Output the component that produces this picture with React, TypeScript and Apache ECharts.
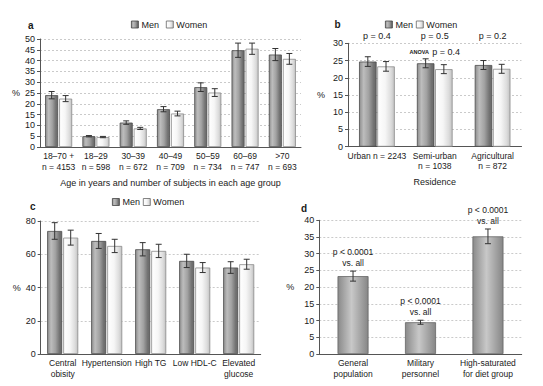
import React, { useEffect, useRef } from 'react';
import * as echarts from 'echarts';

// ---------- data ----------
const ageGroups = ['18–70 +', '18–29', '30–39', '40–49', '50–59', '60–69', '>70'];
const ageN = ['n = 4153', 'n = 598', 'n = 672', 'n = 709', 'n = 734', 'n = 747', 'n = 693'];
const ageMen = [24, 5, 11.3, 17.5, 27.7, 44.8, 42.8];
const ageMenErr = [1.7, 0.3, 0.8, 1.2, 2.0, 3.3, 2.8];
const ageWomen = [22.4, 4.6, 8.6, 15.5, 25.2, 45.5, 40.8];
const ageWomenErr = [1.4, 0.3, 0.5, 1.1, 1.8, 2.6, 2.5];
const ageTicks = { max: 50, interval: 5 };

const resCats = ['Urban n = 2243', 'Semi-urban\nn = 1038', 'Agricultural\nn = 872'];
const resMen = [24.7, 24.2, 23.7];
const resMenErr = [1.4, 1.3, 1.3];
const resWomen = [23.3, 22.5, 22.6];
const resWomenErr = [1.4, 1.3, 1.3];
const resP = ['p = 0.4', 'p = 0.5', 'p = 0.2'];
const resAnova = { cat: 1, at: 27.4, label: 'p = 0.4' };
const resTicks = { max: 30, interval: 5 };

const metCats = ['Central\nobisity', 'Hypertension', 'High TG', 'Low HDL-C', 'Elevated\nglucose'];
const metMen = [74, 68, 63, 56, 52];
const metMenErr = [5, 4.5, 4, 4, 3.5];
const metWomen = [70, 65, 62, 52, 54];
const metWomenErr = [4.5, 4, 4, 3, 3];
const metTicks = { max: 80, interval: 20 };

const grpCats = ['General\npopulation', 'Military\npersonnel', 'High-saturated\nfor diet group'];
const grpVals = [23.3, 9.5, 35.2];
const grpErr = [1.5, 0.6, 2.2];
const grpLabels = ['p < 0.0001\nvs. all', 'p < 0.0001\nvs. all', 'p < 0.0001\nvs. all'];
const grpTicks = { max: 40, interval: 5 };

// ---------- styles ----------
const FONT = 'Liberation Sans, Arial, Helvetica, sans-serif';
const TXT = '#1a1a1a';
const AX = '#555';

const menFill = new echarts.graphic.LinearGradient(0, 0, 1, 0, [
  { offset: 0, color: '#8e8e8e' },
  { offset: 0.25, color: '#bdbdbd' },
  { offset: 0.55, color: '#a2a2a2' },
  { offset: 0.85, color: '#727272' },
  { offset: 1, color: '#6a6a6a' },
]);
const womenFill = new echarts.graphic.LinearGradient(0, 0, 1, 0, [
  { offset: 0, color: '#ffffff' },
  { offset: 0.45, color: '#f6f6f6' },
  { offset: 0.8, color: '#dcdcdc' },
  { offset: 1, color: '#c2c2c2' },
]);
const grpFill = new echarts.graphic.LinearGradient(0, 0, 1, 0, [
  { offset: 0, color: '#8a8a8a' },
  { offset: 0.45, color: '#c8c8c8' },
  { offset: 1, color: '#868686' },
]);

const mkX = (gi: number, data: string[], extra: any = {}) => ({
  type: 'category',
  gridIndex: gi,
  data,
  axisLine: { lineStyle: { color: AX, width: 1 } },
  axisTick: { length: 3, lineStyle: { color: AX } },
  axisLabel: { interval: 0, fontSize: 8.5, color: TXT, margin: 4, lineHeight: 10.5, fontFamily: FONT },
  nameLocation: 'middle',
  nameTextStyle: { fontSize: 9, color: TXT, fontFamily: FONT },
  ...extra,
});

const mkY = (gi: number, t: { max: number; interval: number }, gap: number) => ({
  type: 'value',
  gridIndex: gi,
  min: 0,
  max: t.max,
  interval: t.interval,
  axisLine: { show: true, lineStyle: { color: AX, width: 1 } },
  axisTick: { show: true, length: 3, lineStyle: { color: AX } },
  axisLabel: { fontSize: 9, color: TXT, margin: 5, fontFamily: FONT },
  splitLine: { show: true, lineStyle: { type: [2, 2], color: '#bdbdbd', width: 0.8 } },
  name: '%',
  nameLocation: 'middle',
  nameRotate: 0,
  nameGap: gap,
  nameTextStyle: { fontSize: 9, color: TXT, fontFamily: FONT },
});

const mkBar = (name: string, gi: number, data: number[], fill: any, border: string, width: number, gap: string) => ({
  name,
  type: 'bar',
  xAxisIndex: gi,
  yAxisIndex: gi,
  data,
  barWidth: width,
  barGap: gap,
  itemStyle: { color: fill, borderColor: border, borderWidth: 0.8 },
  silent: true,
});

const mkErr = (gi: number, data: number[], err: number[], offset: number) => ({
  type: 'custom',
  xAxisIndex: gi,
  yAxisIndex: gi,
  z: 5,
  silent: true,
  data: data.map((v, i) => [i, v - err[i], v + err[i]]),
  encode: { x: 0, y: [1, 2] },
  renderItem: (_p: any, api: any) => {
    const x = api.value(0);
    const top = api.coord([x, api.value(2)]);
    const bot = api.coord([x, api.value(1)]);
    const cx = top[0] + offset;
    const st = { stroke: '#333', lineWidth: 1 };
    return {
      type: 'group',
      children: [
        { type: 'line', shape: { x1: cx, y1: top[1], x2: cx, y2: bot[1] }, style: st },
        { type: 'line', shape: { x1: cx - 3, y1: top[1], x2: cx + 3, y2: top[1] }, style: st },
        { type: 'line', shape: { x1: cx - 3, y1: bot[1], x2: cx + 3, y2: bot[1] }, style: st },
      ],
    };
  },
});

const legendData = [
  { name: 'Men', itemStyle: { color: menFill, borderColor: '#444', borderWidth: 0.8 } },
  { name: 'Women', itemStyle: { color: womenFill, borderColor: '#666', borderWidth: 0.8 } },
];
const mkLegend = (left: number, top: number, gap: number) => ({
  left,
  top,
  padding: 0,
  orient: 'horizontal',
  data: legendData,
  itemWidth: 7,
  itemHeight: 7,
  itemGap: gap,
  icon: 'rect',
  selectedMode: false,
  textStyle: { fontSize: 9, color: TXT, fontFamily: FONT, padding: [0, 0, 0, -2] },
});

const letter = (t: string, x: number, y: number) => ({
  type: 'text',
  x,
  y,
  style: { text: t, fill: TXT, font: `bold 10px ${FONT}`, textVerticalAlign: 'middle' },
});

const labelScatter = (gi: number, data: number[][], label: any) => ({
  type: 'scatter',
  xAxisIndex: gi,
  yAxisIndex: gi,
  symbolSize: 0,
  silent: true,
  z: 6,
  itemStyle: { opacity: 1, color: TXT },
  data,
  label: { show: true, color: TXT, fontFamily: FONT, opacity: 1, ...label },
});

const option: any = {
  animation: false,
  backgroundColor: '#ffffff',
  textStyle: { fontFamily: FONT },
  grid: [
    { left: 40, top: 39, width: 261, height: 108 },
    { left: 348, top: 43.3, width: 173.5, height: 103.4 },
    { left: 40.7, top: 221, width: 220, height: 133 },
    { left: 319.3, top: 220.3, width: 202.4, height: 133.7 },
  ],
  xAxis: [
    mkX(0, ageGroups.map((g, i) => g + '\n' + ageN[i]), {
      name: 'Age in years and number of subjects in each age group',
      nameGap: 31,
    }),
    mkX(1, resCats, { name: 'Residence', nameGap: 31 }),
    mkX(2, metCats),
    mkX(3, grpCats),
  ],
  yAxis: [mkY(0, ageTicks, 18), mkY(1, resTicks, 23), mkY(2, metTicks, 19), mkY(3, grpTicks, 25)],
  legend: [mkLegend(131, 20, 7), mkLegend(385, 20, 3), mkLegend(112, 197.5, 3)],
  graphic: [letter('a', 28, 25), letter('b', 334.5, 24), letter('c', 30, 206.5), letter('d', 301, 208)],
  series: [
    // panel a
    mkBar('Men', 0, ageMen, menFill, '#4a4a4a', 13, '8%'),
    mkBar('Women', 0, ageWomen, womenFill, '#8a8a8a', 13, '8%'),
    mkErr(0, ageMen, ageMenErr, -7),
    mkErr(0, ageWomen, ageWomenErr, 7),
    // panel b
    mkBar('Men', 1, resMen, menFill, '#4a4a4a', 17.5, '4%'),
    mkBar('Women', 1, resWomen, womenFill, '#8a8a8a', 17.5, '4%'),
    mkErr(1, resMen, resMenErr, -9.1),
    mkErr(1, resWomen, resWomenErr, 9.1),
    labelScatter(
      1,
      resP.map((_, i) => [i, resTicks.max]),
      { position: 'top', distance: 3, fontSize: 9, formatter: (p: any) => resP[p.dataIndex] }
    ),
    labelScatter(1, [[resAnova.cat, resAnova.at]], {
      position: 'inside',
      formatter: () => '{a|ANOVA} {p|' + resAnova.label + '}',
      rich: {
        a: { fontSize: 5.5, fontWeight: 'bold', color: TXT, fontFamily: FONT },
        p: { fontSize: 9, color: TXT, fontFamily: FONT },
      },
    }),
    // panel c
    mkBar('Men', 2, metMen, menFill, '#4a4a4a', 15, '7%'),
    mkBar('Women', 2, metWomen, womenFill, '#8a8a8a', 15, '7%'),
    mkErr(2, metMen, metMenErr, -8),
    mkErr(2, metWomen, metWomenErr, 8),
    // panel d
    mkBar('Group', 3, grpVals, grpFill, '#666', 31, '0%'),
    mkErr(3, grpVals, grpErr, 0),
    labelScatter(
      3,
      grpVals.map((v, i) => [i, v + grpErr[i]]),
      { position: 'top', distance: 3, fontSize: 8.5, lineHeight: 10.5, formatter: (p: any) => grpLabels[p.dataIndex] }
    ),
  ],
};

export default function App() {
  const ref = useRef<HTMLDivElement>(null);
  useEffect(() => {
    const chart = echarts.init(ref.current!, null, { renderer: 'svg' });
    chart.setOption(option);
    return () => chart.dispose();
  }, []);
  return (
    <div
      ref={ref}
      style={{ position: 'fixed', left: 0, top: 0, width: 543, height: 386, background: '#fff' }}
    />
  );
}
